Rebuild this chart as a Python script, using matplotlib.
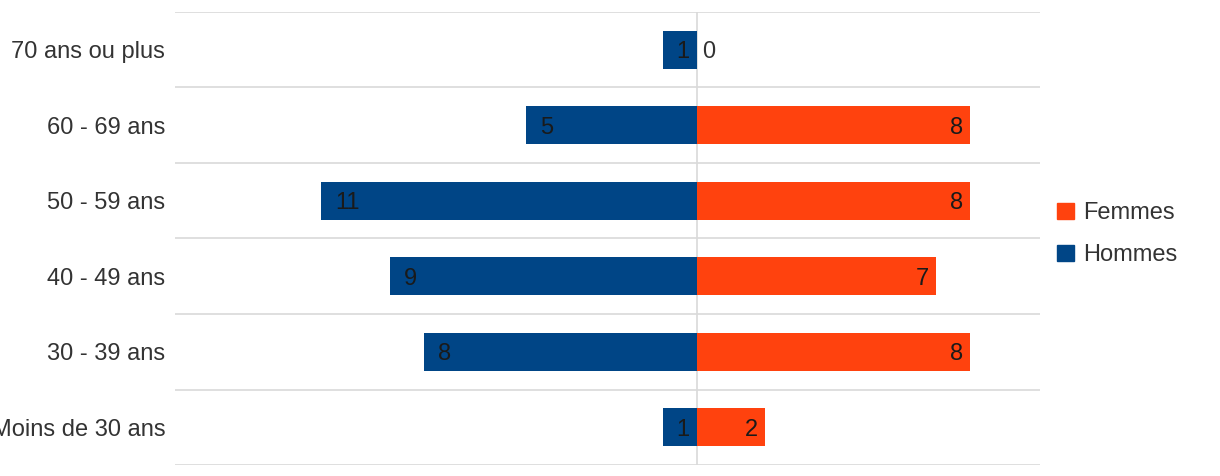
import matplotlib.pyplot as plt
import matplotlib.patches as mpatches

plt.rcParams['font.family'] = ['Liberation Sans', 'DejaVu Sans']

# data
categories = ['Moins de 30 ans', '30 - 39 ans', '40 - 49 ans', '50 - 59 ans', '60 - 69 ans', '70 ans ou plus']
hommes = [1, 8, 9, 11, 5, 1]
femmes = [2, 8, 7, 8, 8, 0]

blue = '#004586'
orange = '#ff420e'

fig = plt.figure(figsize=(12.2, 4.76), dpi=100)
ax = fig.add_axes([0.1434, 0.0231, 0.7091, 0.9517])

y = list(range(len(categories)))
ax.barh(y, [-h for h in hommes], height=0.5, color=blue, zorder=2)
ax.barh(y, femmes, height=0.5, color=orange, zorder=2)

ax.set_xlim(-15.28, 10.04)
ax.set_ylim(-0.5, len(categories) - 0.5)

# horizontal grid between categories
for i in range(len(categories) + 1):
    ax.axhline(i - 0.5, color='#d9d9d9', lw=1.2, zorder=0)
ax.axvline(0, color='#d9d9d9', lw=1.2, zorder=0)

# value labels
for yi, h, f in zip(y, hommes, femmes):
    ax.annotate(str(h), (-h, yi), xytext=(10, 0), textcoords='offset points',
                ha='left', va='center_baseline', fontsize=17, color='#1a1a1a', zorder=3)
    if f > 0:
        ax.annotate(str(f), (f, yi), xytext=(-5, 0), textcoords='offset points',
                    ha='right', va='center_baseline', fontsize=17, color='#1a1a1a', zorder=3)
    else:
        ax.annotate(str(f), (0, yi), xytext=(4, 0), textcoords='offset points',
                    ha='left', va='center_baseline', fontsize=17, color='#333333', zorder=3)

ax.set_yticks(y)
ax.set_yticklabels(categories, fontsize=17, color='#333333')
ax.tick_params(axis='y', length=0, pad=7)
ax.set_xticks([])
for s in ax.spines.values():
    s.set_visible(False)

handles = [mpatches.Patch(color=orange, label='Femmes'),
           mpatches.Patch(color=blue, label='Hommes')]
fig.legend(handles=handles, loc='center left', bbox_to_anchor=(0.849, 0.508),
           frameon=False, fontsize=17, handlelength=0.7, handleheight=0.7,
           handletextpad=0.4, labelspacing=0.85, labelcolor='#333333')

fig.savefig('out.png', dpi=100)
